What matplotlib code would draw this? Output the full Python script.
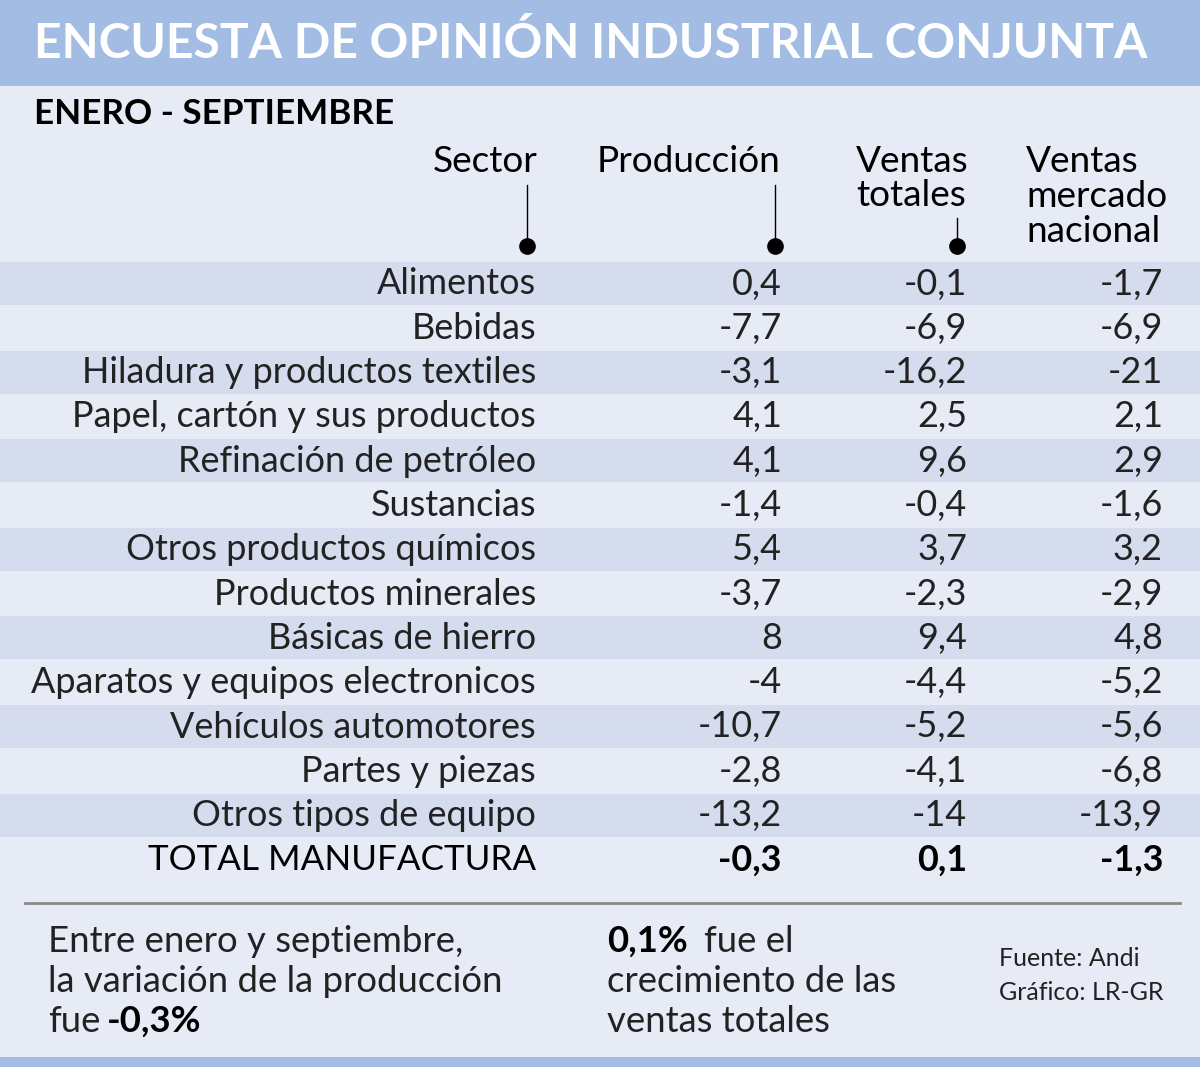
import matplotlib
matplotlib.use("Agg")
import matplotlib.pyplot as plt
from matplotlib.patches import Rectangle

BAND = "#a3bce3"
BG = "#e6ebf6"
STRIPE = "#d5dcee"
INK = "#222222"

title = "ENCUESTA DE OPINIÓN INDUSTRIAL CONJUNTA"
subtitle = "ENERO - SEPTIEMBRE"

sectors = [
    "Alimentos", "Bebidas", "Hiladura y productos textiles",
    "Papel, cartón y sus productos", "Refinación de petróleo", "Sustancias",
    "Otros productos químicos", "Productos minerales", "Básicas de hierro",
    "Aparatos y equipos electronicos", "Vehículos automotores",
    "Partes y piezas", "Otros tipos de equipo",
]
produccion = [0.4, -7.7, -3.1, 4.1, 4.1, -1.4, 5.4, -3.7, 8, -4, -10.7, -2.8, -13.2]
ventas_totales = [-0.1, -6.9, -16.2, 2.5, 9.6, -0.4, 3.7, -2.3, 9.4, -4.4, -5.2, -4.1, -14]
ventas_nacional = [-1.7, -6.9, -21, 2.1, 2.9, -1.6, 3.2, -2.9, 4.8, -5.2, -5.6, -6.8, -13.9]
total_label = "TOTAL MANUFACTURA"
total_values = [-0.3, 0.1, -1.3]


def px(v):
    # pixel height -> points at dpi 100
    return v * 0.72


def fmt(v):
    return f"{v:g}".replace(".", ",")


fig = plt.figure(figsize=(12, 10.67), dpi=100)
fig.patch.set_facecolor(BG)
ax = fig.add_axes([0, 0, 1, 1])
ax.set_xlim(0, 1200)
ax.set_ylim(1067, 0)
ax.axis("off")

# bands
ax.add_patch(Rectangle((0, 0), 1200, 86, color=BAND, lw=0))
ax.add_patch(Rectangle((0, 1057), 1200, 10, color=BAND, lw=0))
ax.text(34, 43, title, color="white", fontsize=px(48), family="Lato",
        weight="bold", va="center", ha="left")
ax.text(34, 114, subtitle, color="black", fontsize=px(35), family="Lato",
        weight="bold", va="center", ha="left")

# column headers, one text per line
hdr = dict(fontsize=px(37), family="Lato", color="black", va="center")
ax.text(537, 162, "Sector", ha="right", **hdr)
ax.text(597, 162, "Producción", ha="left", **hdr)
for j, line in enumerate(["Ventas", "totales"]):
    ax.text(856, 162 + 34 * j, line, ha="left", **hdr)
for j, line in enumerate(["Ventas", "mercado", "nacional"]):
    ax.text(1026, 162 + 34.5 * j, line, ha="left", **hdr)
for x, y0 in [(527, 185), (775, 185), (957, 218)]:
    ax.plot([x, x], [y0, 245], color="black", lw=1)
    ax.plot(x, 246, "o", color="black", ms=11)

# rows
row_h = 44.3
y_first = 284
cols_x = [782, 967, 1163]
for i, name in enumerate(sectors):
    y = y_first + i * row_h
    if i % 2 == 0:
        ax.add_patch(Rectangle((0, y - 22), 1200, 43, color=STRIPE, lw=0))
    ax.text(536, y, name, ha="right", va="center", fontsize=px(36),
            family="Lato", color=INK)
    for x, vals in zip(cols_x, [produccion, ventas_totales, ventas_nacional]):
        ax.text(x, y, fmt(vals[i]), ha="right", va="center", fontsize=px(36),
                family="Lato", color=INK)

y = y_first + len(sectors) * row_h
ax.text(536, y, total_label, ha="right", va="center", fontsize=px(35),
        family="Lato", color="black")
for x, v in zip(cols_x, total_values):
    ax.text(x, y, fmt(v), ha="right", va="center", fontsize=px(36),
            family="Lato", weight="bold", color="black")

ax.plot([25, 1180], [903, 903], color="#8a8a8a", lw=2)

# footer
ft = dict(fontsize=px(36.5), family="Lato", color=INK, va="center")
ax.text(48, 941, "Entre enero y septiembre,", **ft)
ax.text(48, 981, "la variación de la producción", **ft)
ax.text(48, 1021, "fue", **ft)
ax.text(107, 1021, "-0,3%", fontsize=px(36.5), family="Lato", weight="bold",
        color="black", va="center")
ax.text(607, 941, "0,1%", fontsize=px(36.5), family="Lato", weight="bold",
        color="black", va="center")
ax.text(704, 941, "fue el", **ft)
ax.text(607, 981, "crecimiento de las", **ft)
ax.text(607, 1021, "ventas totales", **ft)
ax.text(999, 958, "Fuente: Andi", fontsize=px(25), family="Lato",
        color=INK, va="center")
ax.text(999, 993, "Gráfico: LR-GR", fontsize=px(25), family="Lato",
        color=INK, va="center")

fig.savefig("out.png", dpi=100, facecolor=BG)
